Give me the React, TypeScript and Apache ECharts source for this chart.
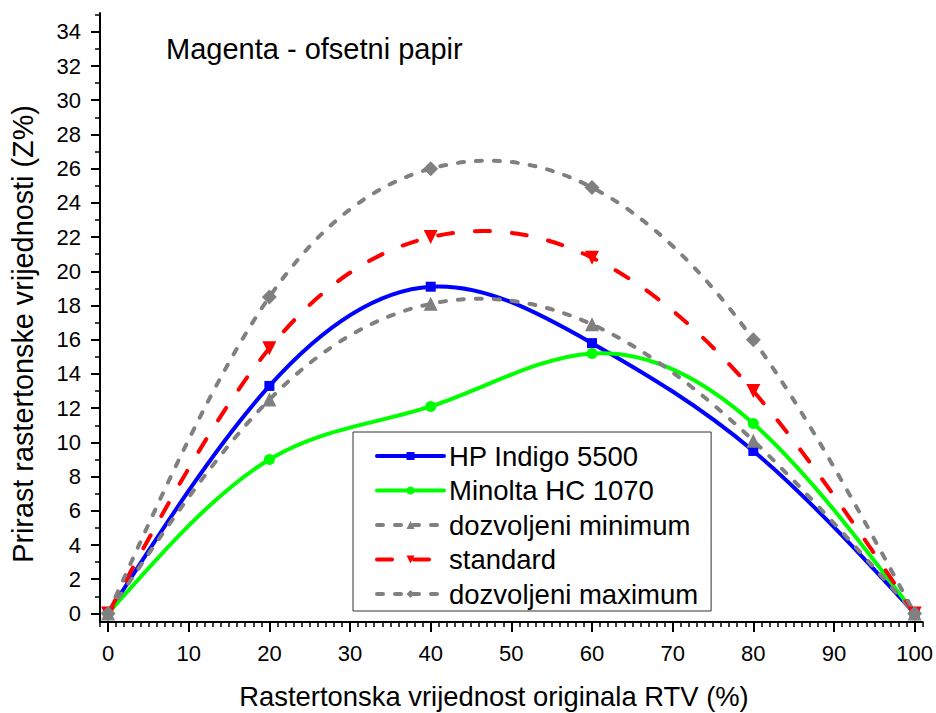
import React, { useEffect, useRef } from "react";
import * as echarts from "echarts";

const xValues = [0, 20, 40, 60, 80, 100];
const hpIndigo = [0, 13.3, 19.1, 15.8, 9.5, 0];
const minolta = [0, 9.0, 12.1, 15.2, 11.1, 0];
const dozvoljeniMin = [0, 12.5, 18.1, 16.9, 10.1, 0];
const standard = [0, 15.5, 22.0, 20.8, 13.0, 0];
const dozvoljeniMax = [0, 18.5, 26.0, 24.9, 16.0, 0];

const xTickLabels = [0, 10, 20, 30, 40, 50, 60, 70, 80, 90, 100];
const yTickLabels = [0, 2, 4, 6, 8, 10, 12, 14, 16, 18, 20, 22, 24, 26, 28, 30, 32, 34];
const yMinorTicks = [1, 3, 5, 7, 9, 11, 13, 15, 17, 19, 21, 23, 25, 27, 29, 31, 33, 35];

const seriesNames = [
  "HP Indigo 5500",
  "Minolta HC 1070",
  "dozvoljeni minimum",
  "standard",
  "dozvoljeni maximum",
];

const FONT = "Arial, 'Liberation Sans', sans-serif";

function pairs(ys: number[]) {
  return xValues.map((x, i) => [x, ys[i]]);
}

// Slopes of the natural cubic spline through the points (Origin "Spline" connection)
function splineSlopes(xs: number[], ys: number[]): number[] {
  const n = xs.length;
  const h: number[] = [];
  for (let i = 0; i < n - 1; i++) h.push(xs[i + 1] - xs[i]);
  const M = new Array(n).fill(0);
  if (n > 2) {
    const a: number[] = [], b: number[] = [], c: number[] = [], r: number[] = [];
    for (let i = 1; i < n - 1; i++) {
      a.push(h[i - 1]);
      b.push(2 * (h[i - 1] + h[i]));
      c.push(h[i]);
      r.push(6 * ((ys[i + 1] - ys[i]) / h[i] - (ys[i] - ys[i - 1]) / h[i - 1]));
    }
    const m = b.length;
    for (let i = 1; i < m; i++) {
      const w = a[i] / b[i - 1];
      b[i] -= w * c[i - 1];
      r[i] -= w * r[i - 1];
    }
    const sol = new Array(m).fill(0);
    sol[m - 1] = r[m - 1] / b[m - 1];
    for (let i = m - 2; i >= 0; i--) sol[i] = (r[i] - c[i] * sol[i + 1]) / b[i];
    for (let i = 0; i < m; i++) M[i + 1] = sol[i];
  }
  const slopes: number[] = [];
  for (let i = 0; i < n - 1; i++) {
    slopes.push((ys[i + 1] - ys[i]) / h[i] - (h[i] * (2 * M[i] + M[i + 1])) / 6);
  }
  slopes.push((ys[n - 1] - ys[n - 2]) / h[n - 2] + (h[n - 2] * (M[n - 2] + 2 * M[n - 1])) / 6);
  return slopes;
}

type CurveStyle = { color: string; dash: number[] | null };

function curveSeries(ys: number[], st: CurveStyle, z: number) {
  const slopes = splineSlopes(xValues, ys);
  return {
    type: "custom",
    coordinateSystem: "cartesian2d",
    xAxisIndex: 0,
    yAxisIndex: 0,
    silent: true,
    z,
    data: pairs(ys),
    renderItem: (params: any, api: any) => {
      if (params.dataIndex !== 0) return null;
      const p0 = api.coord([xValues[0], ys[0]]);
      let d = `M${p0[0]} ${p0[1]}`;
      for (let i = 0; i < xValues.length - 1; i++) {
        const hh = xValues[i + 1] - xValues[i];
        const c1 = api.coord([xValues[i] + hh / 3, ys[i] + (slopes[i] * hh) / 3]);
        const c2 = api.coord([xValues[i + 1] - hh / 3, ys[i + 1] - (slopes[i + 1] * hh) / 3]);
        const p = api.coord([xValues[i + 1], ys[i + 1]]);
        d += ` C${c1[0]} ${c1[1]} ${c2[0]} ${c2[1]} ${p[0]} ${p[1]}`;
      }
      return {
        type: "path",
        shape: { pathData: d },
        style: {
          fill: "none",
          stroke: st.color,
          lineWidth: 4,
          lineDash: st.dash,
          lineCap: "round",
          lineJoin: "round",
        },
      };
    },
  };
}

const styles: CurveStyle[] = [
  { color: "#0000ff", dash: null },
  { color: "#00ff00", dash: null },
  { color: "#808080", dash: [6, 12] },
  { color: "#ff0000", dash: [15, 22] },
  { color: "#808080", dash: [6, 12] },
];
const symbols = ["rect", "circle", "triangle", "triangle", "diamond"];
const symbolSizes = [10, 11, 14, 14, 15];
const symbolRotates = [0, 0, 0, 180, 0];
const allSeries = [hpIndigo, minolta, dozvoljeniMin, standard, dozvoljeniMax];

export default function App() {
  const ref = useRef<HTMLDivElement>(null);
  useEffect(() => {
    document.body.style.margin = "0";
    const chart = echarts.init(ref.current!, null, { renderer: "svg" });
    const axisLineStyle = { color: "#000", width: 2 };

    const series: any[] = [];
    allSeries.forEach((ys, k) => {
      series.push(curveSeries(ys, styles[k], 2 + k));
    });
    allSeries.forEach((ys, k) => {
      series.push({
        name: seriesNames[k],
        type: "line",
        data: pairs(ys),
        symbol: symbols[k],
        symbolSize: symbolSizes[k],
        symbolRotate: symbolRotates[k],
        showAllSymbol: true,
        itemStyle: { color: styles[k].color },
        lineStyle: { color: styles[k].color, width: 0 },
        z: 10 + k,
      });
    });

    chart.setOption({
      animation: false,
      backgroundColor: "#fff",
      textStyle: { fontFamily: FONT },
      grid: { left: 100, right: 13, top: 13, bottom: 91, containLabel: false },
      xAxis: [
        {
          type: "value",
          min: -1,
          max: 101,
          axisLine: { show: true, onZero: false, lineStyle: axisLineStyle },
          axisTick: { show: true, customValues: xTickLabels, length: 10, lineStyle: { color: "#000", width: 2 } },
          axisLabel: { customValues: xTickLabels, color: "#000", fontSize: 22, margin: 20, fontFamily: FONT },
          splitLine: { show: false },
        },
        {
          type: "value",
          min: -1,
          max: 101,
          interval: 1,
          position: "bottom",
          axisLine: { show: false, onZero: false },
          axisTick: { show: true, length: 5, lineStyle: { color: "#000", width: 1.5 } },
          axisLabel: { show: false },
          splitLine: { show: false },
        },
      ],
      yAxis: [
        {
          type: "value",
          min: -0.5,
          max: 35.1,
          axisLine: { show: true, onZero: false, lineStyle: axisLineStyle },
          axisTick: { show: true, customValues: yTickLabels, length: 9, lineStyle: { color: "#000", width: 2 } },
          axisLabel: { customValues: yTickLabels, color: "#000", fontSize: 22, margin: 19, fontFamily: FONT },
          splitLine: { show: false },
        },
        {
          type: "value",
          min: -0.5,
          max: 35.1,
          position: "left",
          axisLine: { show: false, onZero: false },
          axisTick: { show: true, customValues: yMinorTicks, length: 5, lineStyle: { color: "#000", width: 1.5 } },
          axisLabel: { show: false },
          splitLine: { show: false },
        },
      ],
      legend: {
        orient: "vertical",
        left: 353,
        top: 432,
        data: seriesNames.map((name, k) => ({
          name,
          lineStyle: {
            color: styles[k].color,
            width: 4,
            type: styles[k].dash ? styles[k].dash : "solid",
            cap: "round",
          },
        })),
        padding: [10, 13, 3, 22],
        itemWidth: 67,
        itemHeight: 10,
        itemGap: 6.5,
        borderColor: "#333",
        borderWidth: 1,
        backgroundColor: "#fff",
        selectedMode: false,
        z: 20,
        textStyle: { fontSize: 27.5, lineHeight: 27, color: "#000", fontFamily: FONT },
      },
      graphic: [
        {
          type: "text",
          x: 166,
          y: 49,
          style: { text: "Magenta - ofsetni papir", fontSize: 29, fontFamily: FONT, fill: "#000", align: "left", verticalAlign: "middle" },
        },
        {
          type: "text",
          x: 23,
          y: 334,
          rotation: Math.PI / 2,
          style: { text: "Prirast rastertonske vrijednosti (Z%)", fontSize: 28.8, fontFamily: FONT, fill: "#000", align: "center", verticalAlign: "middle" },
        },
        {
          type: "text",
          x: 494,
          y: 696,
          style: { text: "Rastertonska vrijednost originala RTV (%)", fontSize: 27.4, fontFamily: FONT, fill: "#000", align: "center", verticalAlign: "middle" },
        },
      ],
      series,
    });
    return () => chart.dispose();
  }, []);
  return <div ref={ref} style={{ width: 936, height: 713 }} />;
}
